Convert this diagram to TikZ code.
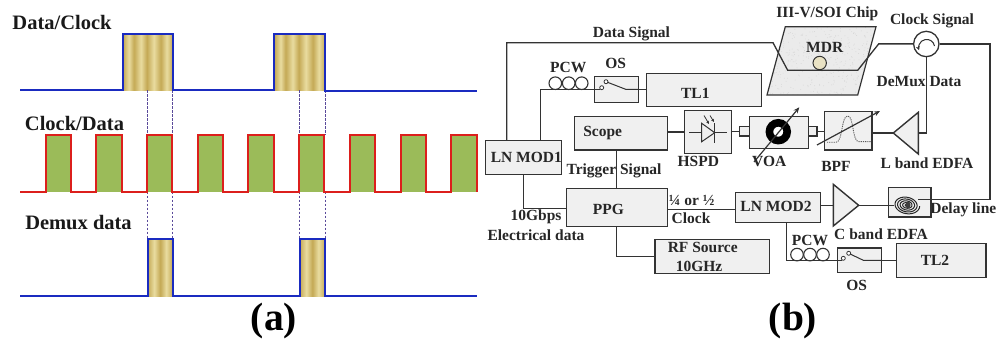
\documentclass[tikz,border=0pt]{standalone}
\usepackage{fontspec}
\setmainfont{Liberation Serif}
\usetikzlibrary{arrows.meta,calc}
\definecolor{gd}{HTML}{C4A955}
\definecolor{gl}{HTML}{E9DCA0}
\definecolor{bluel}{HTML}{1A2BC0}
\definecolor{redl}{HTML}{DC1F1C}
\definecolor{greenf}{HTML}{9BBB59}
\definecolor{guidec}{HTML}{5A4A9A}
\definecolor{linec}{HTML}{333333}
\definecolor{boxf}{HTML}{F0F0F0}
\definecolor{ringf}{HTML}{E9E2C4}
\pgfdeclarehorizontalshading{goldwide}{100bp}{color(0bp)=(gd);color(25bp)=(gd);
 color(31bp)=(gl);color(36bp)=(gd);color(43bp)=(gl);color(49bp)=(gd);color(56bp)=(gl);color(63bp)=(gd);color(69bp)=(gl);color(75bp)=(gd);color(100bp)=(gd)}
\pgfdeclarehorizontalshading{goldnarrow}{100bp}{color(0bp)=(gd);color(25bp)=(gd);
 color(38bp)=(gl);color(50bp)=(gd);color(62bp)=(gl);color(75bp)=(gd);color(100bp)=(gd)}
\tikzset{
 wave/.style={line width=2pt,line join=miter},
 bluewave/.style={wave,draw=bluel},
 redwave/.style={wave,draw=redl},
 guide/.style={draw=guidec,dash pattern=on 2.5pt off 1.5pt,line width=.8pt},
 ttl/.style={inner sep=0pt,font=\fontsize{20.5}{22}\selectfont\bfseries,text=black!90},
 capst/.style={inner sep=0pt,font=\fontsize{39.5}{42}\selectfont\bfseries},
 lbl/.style={inner sep=0pt,font=\fontsize{15.5}{17}\selectfont\bfseries,text=black!85},
 boxst/.style={draw=linec,fill=boxf,line width=1.4pt,inner sep=0pt,outer sep=0pt},
 conn/.style={draw=linec,line width=1.3pt,line join=miter},
 thinl/.style={draw=linec,line width=1pt},
 pinst/.style={circle,draw=linec,line width=.8pt,fill=white,inner sep=0pt,minimum size=4pt},
 coil/.style={circle,draw=linec,line width=1.1pt,inner sep=0pt,minimum size=12.6pt},
}
\newcommand\bx[5]{\node[boxst,minimum width={(#4-#2)*1pt},minimum height={(#5-#3)*1pt}] (#1) at ({(#2+#4)/2},{(#3+#5)/2}) {};}
\newcommand\gold[5]{\shade[shading=#1] (#2,#3) rectangle (#4,#5);}
\begin{document}
\begin{tikzpicture}[x=1pt,y=-1pt]
\useasboundingbox (0,0) rectangle (996,342);
% ---------- panel (a)
\gold{goldwide}{123}{34}{172.7}{90.3}
\gold{goldwide}{274.5}{34}{325}{90.3}
\gold{goldnarrow}{147.7}{239.5}{172.7}{296}
\gold{goldnarrow}{299.7}{239.5}{325}{296}
\foreach \a/\b in {45.7/71,96.3/121.7,147/172.3,197.7/223,248.3/273.7,299/324.3,350/375.3,400.7/426,451.3/476.7}
 \fill[greenf] (\a,134.7) rectangle (\b,191.7);
\foreach \x in {147.4,172.4,299.6,325}{
 \draw[guide] (\x,90.3) -- (\x,134.7);
 \draw[guide] (\x,191.7) -- (\x,239.3);
}
\draw[bluewave] (20,90.3) -- (122.7,90.3) -- (122.7,33.7) -- (172.7,33.7) -- (172.7,90.3) -- (274.3,90.3) -- (274.3,33.7) -- (325,33.7) -- (325,90.6) -- (476.7,90.6);
\draw[redwave] (20,191.7) -- (45.7,191.7) -- (45.7,134.7) -- (71,134.7) -- (71,191.7)
 -- (96.3,191.7) -- (96.3,134.7) -- (121.7,134.7) -- (121.7,191.7)
 -- (147,191.7) -- (147,134.7) -- (172.3,134.7) -- (172.3,191.7)
 -- (197.7,191.7) -- (197.7,134.7) -- (223,134.7) -- (223,191.7)
 -- (248.3,191.7) -- (248.3,134.7) -- (273.7,134.7) -- (273.7,191.7)
 -- (299,191.7) -- (299,134.7) -- (324.3,134.7) -- (324.3,191.7)
 -- (350,191.7) -- (350,134.7) -- (375.3,134.7) -- (375.3,191.7)
 -- (400.7,191.7) -- (400.7,134.7) -- (426,134.7) -- (426,191.7)
 -- (451.3,191.7) -- (451.3,134.7) -- (476.7,134.7) -- (476.7,191.7);
\draw[bluewave] (20,296) -- (147.7,296) -- (147.7,239.3) -- (172.7,239.3) -- (172.7,296) -- (299.7,296) -- (299.7,239.3) -- (325,239.3) -- (325,296) -- (476.7,296);
\node[ttl] (tdc) at (62,22) {Data/Clock};
\node[ttl] (tcd) at (74.5,123.5) {Clock/Data};
\node[ttl] (tdd) at (78.5,223) {Demux data};
\node[capst] (capa) at (274,321) {(a)};
\node[capst] (capb) at (793,321) {(b)};
% ---------- panel (b): chip
\coordinate (c1) at (785.3,26.7);\coordinate (c2) at (876,26.7);\coordinate (c3) at (857.7,95);\coordinate (c4) at (767,95);
\fill[black!8] (c1)--(c2)--(c3)--(c4)--cycle;
\begin{scope}
 \clip (c1)--(c2)--(c3)--(c4)--cycle;
 \pgfmathsetseed{42}
 \foreach \i in {1,...,450}{
  \pgfmathsetmacro\px{765+rnd*113}\pgfmathsetmacro\py{26+rnd*70}
  \fill[black!16] (\px,\py) circle (.45pt);
 }
\end{scope}
\draw[draw=linec,line width=1.2pt,line join=miter] (c1)--(c2)--(c3)--(c4)--cycle;
\node[circle,draw=linec,line width=1pt,fill=ringf,inner sep=0pt,minimum size=13.4pt] (mdr) at (819.7,63) {};
% boxes
\bx{mod1}{485.3}{140.3}{561.7}{174.3}
\bx{tlone}{646.7}{73.7}{761.3}{106.7}
\bx{osone}{594.3}{76.7}{638.3}{102.3}
\bx{scope}{574.7}{116.3}{667.7}{150}
\bx{hspd}{684.7}{110.7}{731.7}{153.3}
\bx{voa}{749.3}{116.7}{808.3}{148.7}
\bx{voal}{739.3}{126.7}{749.3}{136}
\bx{voar}{808.3}{126.7}{817}{136}
\bx{bpf}{824.7}{111.7}{872}{150}
\bx{ppg}{566.3}{188.3}{667.7}{226.7}
\bx{rf}{655}{239.3}{769.3}{273.3}
\bx{mod2}{735.3}{192.7}{820.7}{222.3}
\bx{delay}{888.7}{187.3}{931}{217}
\bx{ostwo}{837.7}{248}{881.3}{272.3}
\bx{tltwo}{896.7}{243.7}{986}{277.7}
% amplifiers
\coordinate (lapex) at (893.3,133);\coordinate (lbase) at (918.3,133);
\draw[boxst] (lapex) -- (918.3,112.3) -- (918.3,154) -- cycle;
\coordinate (capex) at (858.7,205.3);\coordinate (cbase) at (833.3,205.3);
\draw[boxst] (capex) -- (833.3,184.3) -- (833.3,226) -- cycle;
% circulator
\node[circle,draw=linec,line width=1.3pt,fill=white,inner sep=0pt,minimum size=25.4pt] (circ) at (926.3,44) {};
\draw[thinl,-{Stealth[length=4pt,width=4pt]}] (934.5,46) arc[start angle=10,end angle=200,radius=8pt];
% signal route
\coordinate (ds1) at (773,42.7);\coordinate (ds2) at (787.7,70.3);\coordinate (ds3) at (857.7,70.3);\coordinate (ds4) at (878.7,43.9);
\draw[conn] (mod1.north -| 506.7,0) -- (506.7,42.7) -- (ds1) -- (ds2) -- (ds3) -- (ds4) -- (circ.west |- ds4) -- (circ.west);
\coordinate (dlend) at (917.7,199.3);
\draw[conn] (circ.east) -- (990,44) -- (990,199.3) -- (dlend);
\draw[conn] (circ.south) -- (lbase -| circ.south) -- (lbase);
\draw[conn] (lapex) -- (lapex -| bpf.east);
\draw[conn] (bpf.west |- voar.east) -- (voar.east);
\draw[conn] (voal.west) -- (voal.west -| hspd.east);
\draw[conn] (scope.east |- hspd.west) -- (hspd.west);
\draw[conn] (540.7,140.3) -- (540.7,89.3) -- (osone.west |- 0,89.3);
\draw[conn] (tlone.west |- 0,89.3) -- (osone.east |- 0,89.3);
\draw[conn] (616.7,150) -- (616.7,188.3);
\draw[conn] (523.7,174.3) -- (523.7,208.3) -- (ppg.west |- 0,208.3);
\draw[conn] (616.7,226.7) -- (616.7,256.3) -- (rf.west |- 0,256.3);
\draw[conn] (ppg.east |- 0,209.7) -- (mod2.west |- 0,209.7);
\draw[conn] (mod2.east |- cbase) -- (cbase);
\draw[conn] (capex) -- (delay.west |- capex);
\draw[conn] (786.7,222.3) -- (786.7,260.7) -- (ostwo.west |- 0,260.7);
\draw[conn] (ostwo.east |- 0,260.3) -- (tltwo.west |- 0,260.3);
% OS 1
\coordinate (p1a) at (601.7,87.7);\coordinate (p1b) at (606,81.7);
\draw[thinl] (osone.west |- 0,89.3) -- (599.8,89.3);
\draw[thinl] (606,81.7) -- (625.7,89.3) -- (osone.east |- 0,89.3);
\node[pinst] at (p1a) {};\node[pinst] at (p1b) {};
% OS 2
\draw[thinl] (ostwo.west |- 0,260.7) -- (842,260.7);
\draw[thinl] (848.7,253.3) -- (863.3,260.3) -- (ostwo.east |- 0,260.3);
\node[pinst] at (843.3,258.3) {};\node[pinst] at (848.7,253.3) {};
% PCW coils
\foreach \n/\x in {a/555.3,b/568.7,c/581.7} \node[coil] (coil1\n) at (\x,83.2) {};
\foreach \n/\x in {a/797,b/810,c/823} \node[coil] (coil2\n) at (\x,254.6) {};
% HSPD diode
\draw[thinl] (689.3,132.7) -- (701.7,132.7);
\draw[thinl] (714.7,132.7) -- (727.3,132.7);
\draw[thinl,line join=miter] (701.7,123.3) -- (714.7,132.7) -- (701.7,141.7) -- cycle;
\draw[thinl] (714.7,123.3) -- (714.7,142.7);
\draw[thinl,line width=.8pt,-{Stealth[length=3pt,width=3pt]}] (704,115.5) -- (709,124);
\draw[thinl,line width=.8pt,-{Stealth[length=3pt,width=3pt]}] (710,115.5) -- (714,122);
% VOA
\node[circle,draw=black,line width=7.6pt,fill=white,inner sep=0pt,minimum size=17.8pt] (ring) at (778.3,131.7) {};
\draw[thinl,line width=1.2pt,-{Stealth[length=6pt,width=5pt]}] (754,162) -- (799.3,107.3);
% BPF
\draw[black!65,line width=.9pt,dash pattern=on 1.2pt off 1pt] (827,142.3) -- (836,142.3) .. controls (843,142) and (841,116) .. (847.7,116) .. controls (854,116) and (852,142) .. (859,141.7) -- (871,141.7);
\draw[thinl,line width=1.2pt,-{Stealth[length=6pt,width=5pt]}] (817,145) -- (880,111);
% delay coil
\draw[line width=1pt,draw=black!85] plot[smooth,domain=0:1700,samples=130] ({906.7+(13-\x/140)*cos(\x)},{205+(9.2-\x/195)*sin(\x)+1.2*cos(\x)*(1-\x/1700)});
\fill[black!75] (908,205) ellipse (2.5pt and 3.5pt);
\draw[conn] (delay.west |- capex) -- (893.7,205.3);
% labels
\node[lbl] (l1) at (631.5,33.7) {Data Signal};
\node[lbl] (l2) at (827.3,14) {III-V/SOI Chip};
\node[lbl] (l3) at (932,21) {Clock Signal};
\node[lbl] (l4) at (824.7,47.7) {MDR};
\node[lbl] (l5) at (919,81.7) {DeMux Data};
\node[lbl] (l6) at (568.3,67.3) {PCW};
\node[lbl] (l7) at (615.7,63.3) {OS};
\node[lbl] (l8) at (695.3,93.3) {TL1};
\node[lbl] (l9) at (602.7,133.3) {Scope};
\node[lbl] (l10) at (526.3,157.3) {LN MOD1};
\node[lbl] (l11) at (698.3,161.3) {HSPD};
\node[lbl] (l12) at (769.3,161.3) {VOA};
\node[lbl] (l13) at (836,166.7) {BPF};
\node[lbl] (l14) at (927,162.7) {L band EDFA};
\node[lbl] (l15) at (614,171) {Trigger Signal};
\node[lbl] (l16) at (608.3,209.3) {PPG};
\node[lbl] (l17) at (691.7,200) {¼ or ½};
\node[lbl] (l18) at (691,218.3) {Clock};
\node[lbl] (l19) at (536,216.7) {10Gbps};
\node[lbl] (l20) at (536,235.3) {Electrical data};
\node[lbl] (l21) at (702.7,247.7) {RF Source};
\node[lbl] (l22) at (699,266.3) {10GHz};
\node[lbl] (l23) at (776,206.7) {LN MOD2};
\node[lbl] (l24) at (963.3,209.7) {Delay line};
\node[lbl] (l25) at (881,233.7) {C band EDFA};
\node[lbl] (l26) at (810,240) {PCW};
\node[lbl] (l27) at (856.7,285.3) {OS};
\node[lbl] (l28) at (935,260) {TL2};
\end{tikzpicture}
\end{document}
